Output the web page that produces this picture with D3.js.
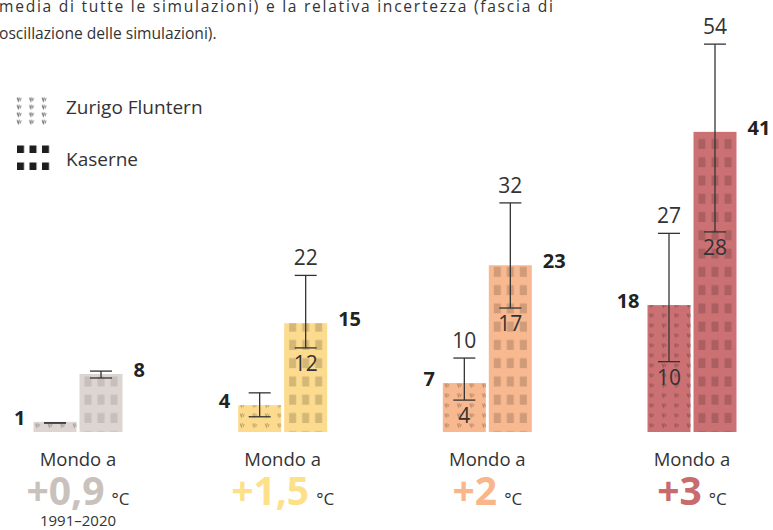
<!DOCTYPE html>
<html>
<head>
<meta charset="utf-8">
<script src="https://cdn.jsdelivr.net/npm/d3@7"></script>
<style>
  body { margin: 0; background: #fff; }
  svg { display: block; font-family: "Open Sans", sans-serif; }
</style>
</head>
<body>
<script>
const scenarios = ["+0,9", "+1,5", "+2", "+3"];
const scenarioNotes = ["1991–2020", "", "", ""];
const series = ["Zurigo Fluntern", "Kaserne"];

// median of all simulations, with the low / high end of the spread
const flunternMedian = [1.4, 3.7, 6.75, 17.5];
const flunternLow = [1.25, 2.1, 4.4, 9.7];
const flunternHigh = [1.25, 5.4, 10.2, 27.4];
const flunternRangeLabels = [false, false, true, true];

const kaserneMedian = [8.0, 15.0, 23.0, 41.4];
const kaserneLow = [7.45, 11.6, 17.1, 27.6];
const kaserneHigh = [8.4, 21.6, 31.6, 53.5];
const kaserneRangeLabels = [false, true, true, true];

const barColors = ["#dcd5d1", "#fcdb8e", "#f8b990", "#cc7173"];
const numberColors = ["#c9c1bc", "#fde08a", "#f9b68b", "#c96b6d"];

const introLines = [
  "media di tutte le simulazioni) e la relativa incertezza (fascia di",
  "oscillazione delle simulazioni)."
];

const W = 773, H = 530;
const BASE = 432;
const INK = "#333";
const COLUMN = 554;

const svg = d3.select("body").append("svg")
  .attr("width", W)
  .attr("height", H);
const defs = svg.append("defs");

const x0 = d3.scalePoint().domain(scenarios).range([78, 692]);
const x1 = d3.scaleBand().domain(series).range([-44.5, 44.5]).paddingInner(0.0652);
const y = d3.scaleLinear().domain([0, 55]).range([BASE, BASE - 55 * 7.25]);

const bars = [];
scenarios.forEach((s, i) => {
  bars.push({scenario: s, i, series: series[0], value: flunternMedian[i],
    low: flunternLow[i], high: flunternHigh[i], labels: flunternRangeLabels[i], side: "left"});
  bars.push({scenario: s, i, series: series[1], value: kaserneMedian[i],
    low: kaserneLow[i], high: kaserneHigh[i], labels: kaserneRangeLabels[i], side: "right"});
});
const barX = d => x0(d.scenario) + x1(d.series);
const barMid = d => barX(d) + x1.bandwidth() / 2;

const TUFT = "M2,1.5L3.3,5L4.2,1.2M4.9,5L6,2";

function windowPattern(id, color, w, h, cols, winW, winH, offY) {
  const p = defs.append("pattern")
    .attr("id", id)
    .attr("patternUnits", "userSpaceOnUse")
    .attr("width", w)
    .attr("height", h)
    .attr("y", offY);
  cols.forEach(cx => {
    p.append("rect")
      .attr("x", cx)
      .attr("y", h - winH)
      .attr("width", winW)
      .attr("height", winH)
      .attr("fill", color);
  });
}

function tuftPattern(id, color, w, h) {
  const p = defs.append("pattern")
    .attr("id", id)
    .attr("patternUnits", "userSpaceOnUse")
    .attr("width", w)
    .attr("height", h);
  p.append("path")
    .attr("d", TUFT)
    .attr("fill", "none")
    .attr("stroke", color)
    .attr("stroke-width", 1);
}

barColors.forEach((c, i) => {
  const k = i === 0 ? 0.3 : 0.5;
  windowPattern("win-" + i, d3.color(c).darker(k), x1.bandwidth(), 18.27, [5, 18, 31], 7, 10, -9);
  tuftPattern("tuft-" + i, d3.color(c).darker(0.8), 12.5, 10);
});

// intro text, first line stretched to the column width
const intro = svg.append("g")
  .attr("font-size", 15.6)
  .attr("fill", INK);
intro.selectAll("text")
  .data(introLines)
  .join("text")
  .attr("x", -1)
  .attr("y", (d, i) => 12 + i * 27)
  .attr("textLength", (d, i) => i < introLines.length - 1 ? COLUMN : null)
  .attr("lengthAdjust", "spacing")
  .text(d => d);

// legend
const legend = svg.append("g");
tuftPattern("tuft-legend", "#6f6f6f", 12.5, 7.5);
windowPattern("win-legend", "#1e1e1e", 12.5, 17, [0], 7, 7.5, 0);
legend.append("g").attr("transform", "translate(15,96)")
  .append("rect").attr("width", 35).attr("height", 29).attr("fill", "url(#tuft-legend)");
legend.append("g").attr("transform", "translate(17,136)")
  .append("rect").attr("width", 33).attr("height", 36).attr("fill", "url(#win-legend)");
legend.selectAll("text")
  .data(series)
  .join("text")
  .attr("x", 66)
  .attr("y", (d, i) => 114 + i * 52)
  .attr("font-size", 19)
  .attr("fill", INK)
  .text(d => d);

// bars
const barG = svg.append("g").selectAll("g")
  .data(bars)
  .join("g")
  .attr("transform", d => `translate(${barX(d)},${BASE})`);

barG.append("rect")
  .attr("y", d => y(d.value) - BASE)
  .attr("width", x1.bandwidth())
  .attr("height", d => BASE - y(d.value))
  .attr("fill", d => barColors[d.i]);

barG.append("rect")
  .attr("y", d => y(d.value) - BASE)
  .attr("width", x1.bandwidth())
  .attr("height", d => BASE - y(d.value))
  .attr("fill", d => d.side === "left" ? `url(#tuft-${d.i})` : `url(#win-${d.i})`);

// value labels
svg.append("g").selectAll("text")
  .data(bars)
  .join("text")
  .attr("x", d => d.side === "left" ? barX(d) - 8 : barX(d) + x1.bandwidth() + 11)
  .attr("y", d => y(d.value) + 3)
  .attr("text-anchor", d => d.side === "left" ? "end" : "start")
  .attr("font-size", 20)
  .attr("font-weight", 700)
  .attr("fill", "#222")
  .text(d => Math.round(d.value));

// error bars
const errG = svg.append("g").selectAll("g")
  .data(bars)
  .join("g")
  .attr("transform", d => `translate(${barMid(d)},0)`)
  .attr("stroke", INK)
  .attr("stroke-width", 1.3);

errG.append("line")
  .attr("y1", d => y(d.high))
  .attr("y2", d => y(d.low));
errG.append("line")
  .attr("x1", -11).attr("x2", 11)
  .attr("y1", d => y(d.high)).attr("y2", d => y(d.high));
errG.append("line")
  .attr("x1", -11).attr("x2", 11)
  .attr("y1", d => y(d.low)).attr("y2", d => y(d.low));

const rangeLabels = svg.append("g")
  .attr("font-size", 21)
  .attr("fill", INK)
  .attr("text-anchor", "middle");
const labelled = bars.filter(d => d.labels);
rangeLabels.selectAll("text.hi")
  .data(labelled)
  .join("text")
  .attr("class", "hi")
  .attr("x", barMid)
  .attr("y", d => y(d.high) - 10)
  .text(d => Math.round(d.high));
rangeLabels.selectAll("text.lo")
  .data(labelled)
  .join("text")
  .attr("class", "lo")
  .attr("x", barMid)
  .attr("y", d => y(d.low) + 23)
  .text(d => Math.round(d.low));

// scenario labels under the bars
const cat = svg.append("g").selectAll("g")
  .data(scenarios)
  .join("g")
  .attr("transform", d => `translate(${x0(d)},0)`)
  .attr("text-anchor", "middle");

cat.append("text")
  .attr("y", 466)
  .attr("font-size", 18.5)
  .attr("fill", INK)
  .text("Mondo a");

const big = cat.append("text")
  .attr("y", 505);
big.append("tspan")
  .attr("font-size", 39)
  .attr("font-weight", 700)
  .attr("fill", (d, i) => numberColors[i])
  .text(d => d);
big.append("tspan")
  .attr("dx", 7)
  .attr("font-size", 17)
  .attr("fill", INK)
  .text("°C");

cat.append("text")
  .attr("y", 526)
  .attr("font-size", 15)
  .attr("fill", INK)
  .text((d, i) => scenarioNotes[i]);
</script>
</body>
</html>
